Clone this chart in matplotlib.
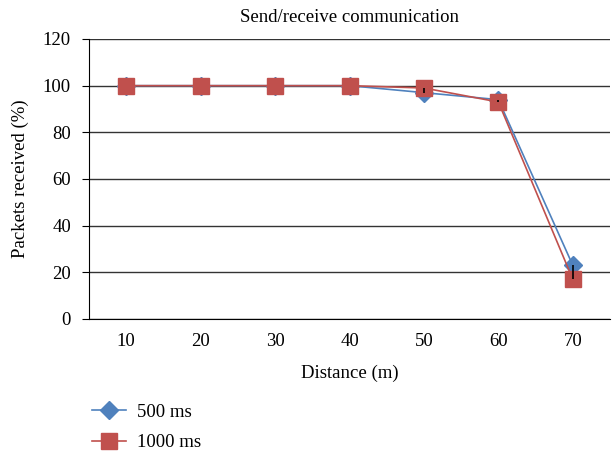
import matplotlib
matplotlib.use("Agg")
import matplotlib.pyplot as plt
import numpy as np

distance = [10, 20, 30, 40, 50, 60, 70]
recv_500 = [100, 100, 100, 100, 97, 94, 23]
recv_1000 = [100, 100, 100, 100, 99, 93, 17]

plt.rcParams['font.family'] = ['Liberation Serif', 'DejaVu Serif']

fig = plt.figure(figsize=(6.15, 4.54), dpi=100)
ax = fig.add_axes([0.1447, 0.2974, 0.8472, 0.6167])

x = np.arange(len(distance))

# high-low lines between the two series
ax.vlines(x, np.minimum(recv_500, recv_1000), np.maximum(recv_500, recv_1000),
          color='black', lw=1.2, zorder=4)

l1, = ax.plot(x, recv_500, color='#4F81BD', lw=1.2, marker='D', ms=9,
              mec='#4F81BD', mfc='#4F81BD', zorder=3)
l2, = ax.plot(x, recv_1000, color='#C0504D', lw=1.2, marker='s', ms=11,
              mec='#C0504D', mfc='#C0504D', zorder=3)

ax.set_xlim(-0.5, len(distance) - 0.5)
ax.set_ylim(0, 120)
ax.set_yticks(range(0, 121, 20))
ax.yaxis.grid(True, color='#333333', lw=1)
ax.set_axisbelow(True)
ax.set_xticks(x)
ax.set_xticklabels([str(d) for d in distance])
ax.tick_params(axis='x', length=0, pad=10, labelsize=13.5)
ax.tick_params(axis='y', length=5, direction='out', labelsize=13.5, pad=8)
for s in ['top', 'right']:
    ax.spines[s].set_visible(False)

ax.set_title('Send/receive communication', fontsize=13.5, pad=12)
ax.set_xlabel('Distance (m)', fontsize=13.5, labelpad=11)
ax.set_ylabel('Packets received (%)', fontsize=13.5, labelpad=10)

fig.legend([l1, l2], ['500 ms', '1000 ms'], loc='lower left',
           bbox_to_anchor=(0.122, -0.031), frameon=False, fontsize=13.5,
           handlelength=1.8, handletextpad=0.6, labelspacing=0.72)

fig.savefig('out.png', dpi=100)
